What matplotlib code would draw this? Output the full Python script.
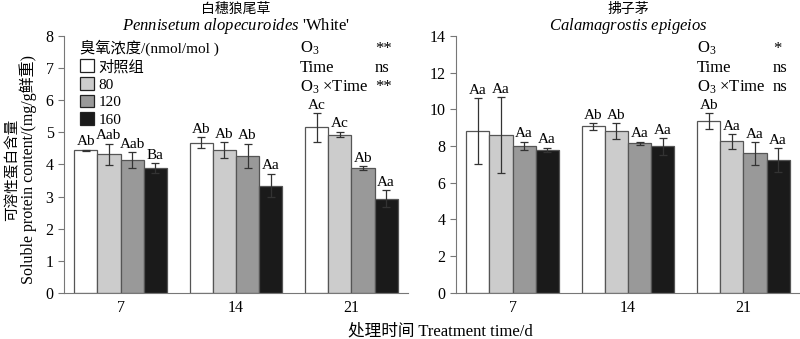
import numpy as np
import matplotlib
matplotlib.use("Agg")
import matplotlib.pyplot as plt
from matplotlib.patches import Patch

plt.rcParams['font.family'] = ['Liberation Serif', 'Noto Sans CJK SC']
plt.rcParams['mathtext.fontset'] = 'custom'
plt.rcParams['mathtext.rm'] = 'Liberation Serif'
plt.rcParams['mathtext.it'] = 'Liberation Serif:italic'

days = ['7', '14', '21']
levels = ['对照组', '80', '120', '160']
colors = ['#ffffff', '#cccccc', '#999999', '#1a1a1a']

# 白穗狼尾草
pen_mean = [[4.44, 4.67, 5.15],
            [4.32, 4.44, 4.93],
            [4.14, 4.27, 3.89],
            [3.88, 3.34, 2.93]]
pen_err = [[0.02, 0.17, 0.45],
           [0.33, 0.25, 0.09],
           [0.24, 0.38, 0.06],
           [0.16, 0.37, 0.26]]
pen_lab = [['Ab', 'Ab', 'Ac'],
           ['Aab', 'Ab', 'Ac'],
           ['Aab', 'Ab', 'Ab'],
           ['Ba', 'Aa', 'Aa']]

# 拂子茅
cal_mean = [[8.8, 9.08, 9.37],
            [8.6, 8.82, 8.25],
            [8.02, 8.15, 7.6],
            [7.8, 7.98, 7.23]]
cal_err = [[1.8, 0.18, 0.42],
           [2.05, 0.42, 0.4],
           [0.22, 0.08, 0.62],
           [0.12, 0.45, 0.65]]
cal_lab = [['Aa', 'Ab', 'Ab'],
           ['Aa', 'Ab', 'Aa'],
           ['Aa', 'Aa', 'Aa'],
           ['Aa', 'Aa', 'Aa']]

stat_names = ['O$_3$', 'Time', 'O$_3$ ×Time']
pen_stats = ['**', 'ns', '**']
cal_stats = ['*', 'ns', 'ns']

fig = plt.figure(figsize=(8, 3.39), dpi=100)
ax1 = fig.add_axes([0.08, 0.136, 0.43, 0.758])
ax2 = fig.add_axes([0.57, 0.136, 0.43, 0.758])

x = np.arange(len(days))
w = 0.2
edge = '#555555'


def draw(ax, means, errs, labs, ymax, step):
    for i in range(4):
        xs = x + (i - 1.5) * w
        ax.bar(xs, means[i], w, color=colors[i], edgecolor=edge, linewidth=0.9, zorder=2)
        ax.errorbar(xs, means[i], yerr=errs[i], fmt='none', ecolor='#333333',
                    elinewidth=0.9, capsize=3, capthick=0.9, zorder=3)
        for j in range(len(days)):
            ax.annotate(labs[i][j], (xs[j], means[i][j] + errs[i][j]),
                        xytext=(0, 1), textcoords='offset points',
                        ha='center', va='bottom', fontsize=11)
    ax.set_xlim(-0.49, 2.49)
    ax.set_ylim(0, ymax)
    ax.set_yticks(np.arange(0, ymax + 0.1, step))
    ax.set_xticks(x)
    ax.set_xticklabels(days)
    ax.spines['top'].set_visible(False)
    ax.spines['right'].set_visible(False)
    ax.spines['left'].set_color('#777777')
    ax.spines['bottom'].set_color('#777777')
    ax.tick_params(axis='y', direction='out', length=4, color='#777777', labelsize=11.5)
    ax.tick_params(axis='x', length=0, labelsize=11.5, pad=5)


draw(ax1, pen_mean, pen_err, pen_lab, 8, 1)
draw(ax2, cal_mean, cal_err, cal_lab, 14, 2)

ax1.text(0.5, 1.09, '白穗狼尾草', transform=ax1.transAxes, ha='center', va='baseline', fontsize=10)
ax1.text(0.5, 1.022, r"$\it{Pennisetum\ alopecuroides}$ 'White'", transform=ax1.transAxes,
         ha='center', va='baseline', fontsize=12)
ax2.text(0.5, 1.09, '拂子茅', transform=ax2.transAxes, ha='center', va='baseline', fontsize=10)
ax2.text(0.5, 1.022, r"$\it{Calamagrostis\ epigeios}$", transform=ax2.transAxes,
         ha='center', va='baseline', fontsize=12)

# stats text
for ax, xs0, xs1, vals in [(ax1, 0.686, 0.904, pen_stats), (ax2, 0.70, 0.922, cal_stats)]:
    for k in range(3):
        yy = 0.95 - k * 0.075
        ax.text(xs0, yy, stat_names[k], transform=ax.transAxes, ha='left', va='center', fontsize=12)
        ax.text(xs1, yy, vals[k], transform=ax.transAxes, ha='left', va='center', fontsize=12)

handles = [Patch(facecolor=colors[i], edgecolor='#222222', linewidth=0.9) for i in range(4)]
leg = ax1.legend(handles, levels, title='臭氧浓度/(nmol/mol )', loc='upper left',
                 bbox_to_anchor=(0.02, 1.02), frameon=False, fontsize=11, title_fontsize=11,
                 handlelength=0.9, handleheight=0.9, handletextpad=0.3, labelspacing=0.2,
                 alignment='left', borderaxespad=0.2)

fig.text(0.015, 0.5, '可溶性蛋白含量', rotation=90, ha='center', va='center', fontsize=10.5)
fig.text(0.035, 0.5, 'Soluble protein content/(mg/g鲜重)', rotation=90, ha='center', va='center', fontsize=11.5)
fig.text(0.55, 0.021, '处理时间 Treatment time/d', ha='center', va='center', fontsize=12)

fig.savefig('out.png', dpi=100)
